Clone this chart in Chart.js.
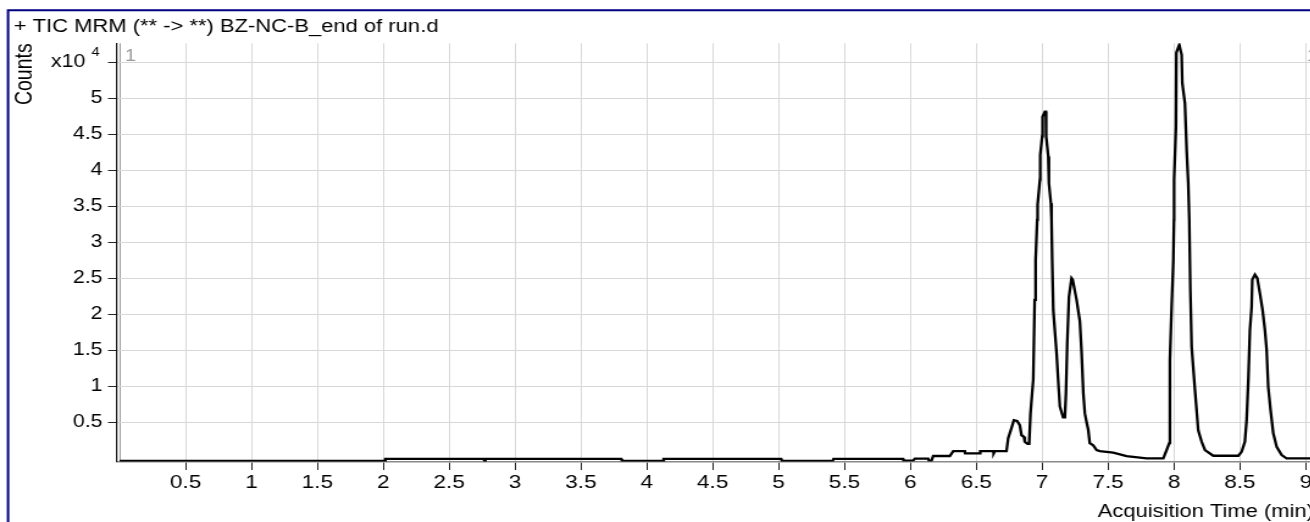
<!DOCTYPE html>
<html>
<head>
<meta charset="utf-8">
<script src="https://cdn.jsdelivr.net/npm/chart.js@4.4.1/dist/chart.umd.min.js"></script>
<style>
    html, body { margin: 0; padding: 0; background: #fff; overflow: hidden; width: 1310px; height: 522px; }
    /* the source printout is wider than its glyphs are tall, so the whole drawing is stretched sideways */
    #wrap { width: 1100px; height: 522px; transform: scaleX(1.22); transform-origin: 0 0; }
    canvas { display: block; }
</style>
</head>
<body>
<div id="wrap"><canvas id="ticChart" width="1100" height="522"></canvas></div>
<script>
// acquisition time (min) and counts (x10^4)
const timeMin = [
    0.000, 2.013, 2.016, 2.762, 2.768, 2.775, 3.806, 3.812, 4.122, 4.128,
    5.020, 5.026, 5.411, 5.417, 5.945, 5.948, 6.021, 6.034, 6.135, 6.140,
    6.160, 6.173, 6.299, 6.325, 6.413, 6.416, 6.527, 6.530, 6.628, 6.632,
    6.641, 6.729, 6.742, 6.767, 6.785, 6.810, 6.830, 6.843, 6.861, 6.868,
    6.889, 6.901, 6.911, 6.932, 6.943, 6.950, 6.962, 6.965, 6.983, 6.985,
    7.000, 7.003, 7.021, 7.028, 7.030, 7.046, 7.051, 7.066, 7.071, 7.076,
    7.084, 7.109, 7.121, 7.134, 7.159, 7.172, 7.180, 7.190, 7.203, 7.223,
    7.231, 7.261, 7.286, 7.299, 7.312, 7.324, 7.337, 7.349, 7.361, 7.387,
    7.413, 7.437, 7.539, 7.640, 7.792, 7.919, 7.944, 7.964, 7.969, 7.982,
    7.995, 8.000, 8.001, 8.015, 8.018, 8.040, 8.058, 8.063, 8.083, 8.096,
    8.108, 8.116, 8.124, 8.134, 8.159, 8.184, 8.210, 8.235, 8.298, 8.488,
    8.513, 8.538, 8.551, 8.564, 8.576, 8.589, 8.594, 8.614, 8.632, 8.652,
    8.672, 8.690, 8.703, 8.715, 8.733, 8.753, 8.779, 8.817, 8.854, 9.050
];
const countsE4 = [
    -0.035, -0.035, -0.008, -0.008, -0.035, -0.008, -0.008, -0.035, -0.035, -0.008,
    -0.008, -0.035, -0.035, -0.008, -0.008, -0.033, -0.033, -0.005, -0.005, -0.033,
    -0.033, 0.032, 0.032, 0.10, 0.10, 0.069, 0.069, 0.10, 0.10, 0.069,
    0.10, 0.10, 0.28, 0.42, 0.53, 0.52, 0.46, 0.32, 0.30, 0.23,
    0.20, 0.20, 0.62, 1.09, 2.20, 2.75, 3.31, 3.52, 3.87, 4.21,
    4.47, 4.74, 4.81, 4.81, 4.47, 4.19, 3.82, 3.54, 3.31, 2.75,
    2.06, 1.46, 1.09, 0.72, 0.57, 0.57, 0.90, 1.60, 2.24, 2.50,
    2.48, 2.20, 1.90, 1.46, 0.90, 0.62, 0.50, 0.40, 0.21, 0.18,
    0.115, 0.10, 0.08, 0.03, 0.0, 0.0, 0.115, 0.21, 1.37, 2.10,
    2.75, 3.31, 3.87, 4.61, 5.63, 5.74, 5.60, 5.21, 4.93, 4.28,
    3.82, 3.31, 2.34, 1.55, 0.95, 0.39, 0.23, 0.115, 0.036, 0.036,
    0.09, 0.23, 0.53, 1.09, 1.78, 2.10, 2.48, 2.55, 2.50, 2.29,
    2.06, 1.78, 1.50, 0.99, 0.67, 0.35, 0.16, 0.046, 0.0, 0.0
];

const xTickValues = [0, 0.5, 1, 1.5, 2, 2.5, 3, 3.5, 4, 4.5, 5, 5.5, 6, 6.5, 7, 7.5, 8, 8.5, 9];
const yTickValues = [0.5, 1, 1.5, 2, 2.5, 3, 3.5, 4, 4.5, 5, 5.5];
const exponentTick = 5.5;   // top tick carries the "x10 4" multiplier instead of a number

const FONT = "'Liberation Sans', Arial, sans-serif";

const ticDecor = {
    id: 'ticDecor',
    afterDraw(chart) {
        const ctx = chart.ctx;
        const y = chart.scales.y;
        const area = chart.chartArea;
        const yTop = y.getPixelForValue(exponentTick);

        ctx.save();
        // navy frame round the panel
        ctx.strokeStyle = '#000080';
        ctx.lineWidth = 2;
        ctx.beginPath();
        ctx.moveTo(6.6, 530);
        ctx.lineTo(6.6, 10.3);
        ctx.lineTo(1100, 10.3);
        ctx.stroke();

        ctx.fillStyle = '#000';
        ctx.textBaseline = 'alphabetic';
        ctx.textAlign = 'right';
        ctx.font = `17.5px ${FONT}`;
        ctx.fillText('x10', 70, yTop + 5);
        ctx.textAlign = 'left';
        ctx.font = `12px ${FONT}`;
        ctx.fillText('4', 75, yTop - 6.5);

        ctx.fillStyle = '#999';
        ctx.font = `16px ${FONT}`;
        ctx.fillText('1', area.left + 6.5, yTop - 1.3);
        ctx.fillText('1', 1071.3, yTop - 1.3);
        ctx.restore();
    }
};

const ticChart = new Chart(document.getElementById('ticChart'), {
    type: 'line',
    data: {
        datasets: [{
            data: timeMin.map((t, i) => ({ x: t, y: countsE4[i] })),
            borderColor: '#000',
            borderWidth: 2.3,
            pointRadius: 0,
            tension: 0,
            fill: false
        }]
    },
    options: {
        responsive: false,
        animation: false,
        layout: { padding: { left: 11.3, right: 23, top: 0, bottom: 0 } },
        plugins: {
            legend: { display: false },
            tooltip: { enabled: false },
            title: {
                display: true,
                text: '+ TIC MRM (** -> **) BZ-NC-B_end of run.d',
                align: 'start',
                color: '#000',
                font: { family: FONT, size: 18, weight: 'normal' },
                padding: { top: 16, bottom: 5.7 }
            }
        },
        scales: {
            x: {
                type: 'linear',
                min: -0.02,
                max: 9.062,
                afterBuildTicks: (scale) => { scale.ticks = xTickValues.map(v => ({ value: v })); },
                afterFit: (scale) => { scale.height = 60.5; },
                ticks: {
                    callback: (v) => v === 0 ? '' : String(v),
                    autoSkip: false,
                    maxRotation: 0,
                    padding: 2,
                    color: '#000',
                    font: { family: FONT, size: 18.5 }
                },
                grid: {
                    color: (c) => c.tick && c.tick.value === 0 ? '#9a9a9a' : '#d8d8d8',
                    tickColor: (c) => c.tick && c.tick.value === 0 ? 'rgba(0,0,0,0)' : '#222',
                    tickLength: 8.5,
                    lineWidth: 1
                },
                border: { color: '#8a8a8a', width: 1.5 },
                title: {
                    display: true,
                    text: 'Acquisition Time (min)',
                    align: 'end',
                    color: '#000',
                    font: { family: FONT, size: 18 },
                    padding: { top: 0, bottom: -1 }
                }
            },
            y: {
                type: 'linear',
                min: -0.044,
                max: 5.76,
                afterBuildTicks: (scale) => { scale.ticks = yTickValues.map(v => ({ value: v })); },
                afterFit: (scale) => { scale.width = 84.6; },
                ticks: {
                    callback: (v) => v === exponentTick ? '' : String(v),
                    padding: 4.5,
                    color: '#000',
                    font: { family: FONT, size: 17.5 }
                },
                grid: {
                    color: '#d8d8d8',
                    tickColor: '#222',
                    tickLength: 7.4,
                    lineWidth: 1
                },
                border: { color: '#111', width: 1.2 },
                title: {
                    display: true,
                    text: 'Counts',
                    align: 'end',
                    color: '#000',
                    font: { family: FONT, size: 19.5, lineHeight: 1.0 },
                    padding: { top: 0, bottom: 0 }
                }
            }
        }
    },
    plugins: [ticDecor]
});
</script>
</body>
</html>
